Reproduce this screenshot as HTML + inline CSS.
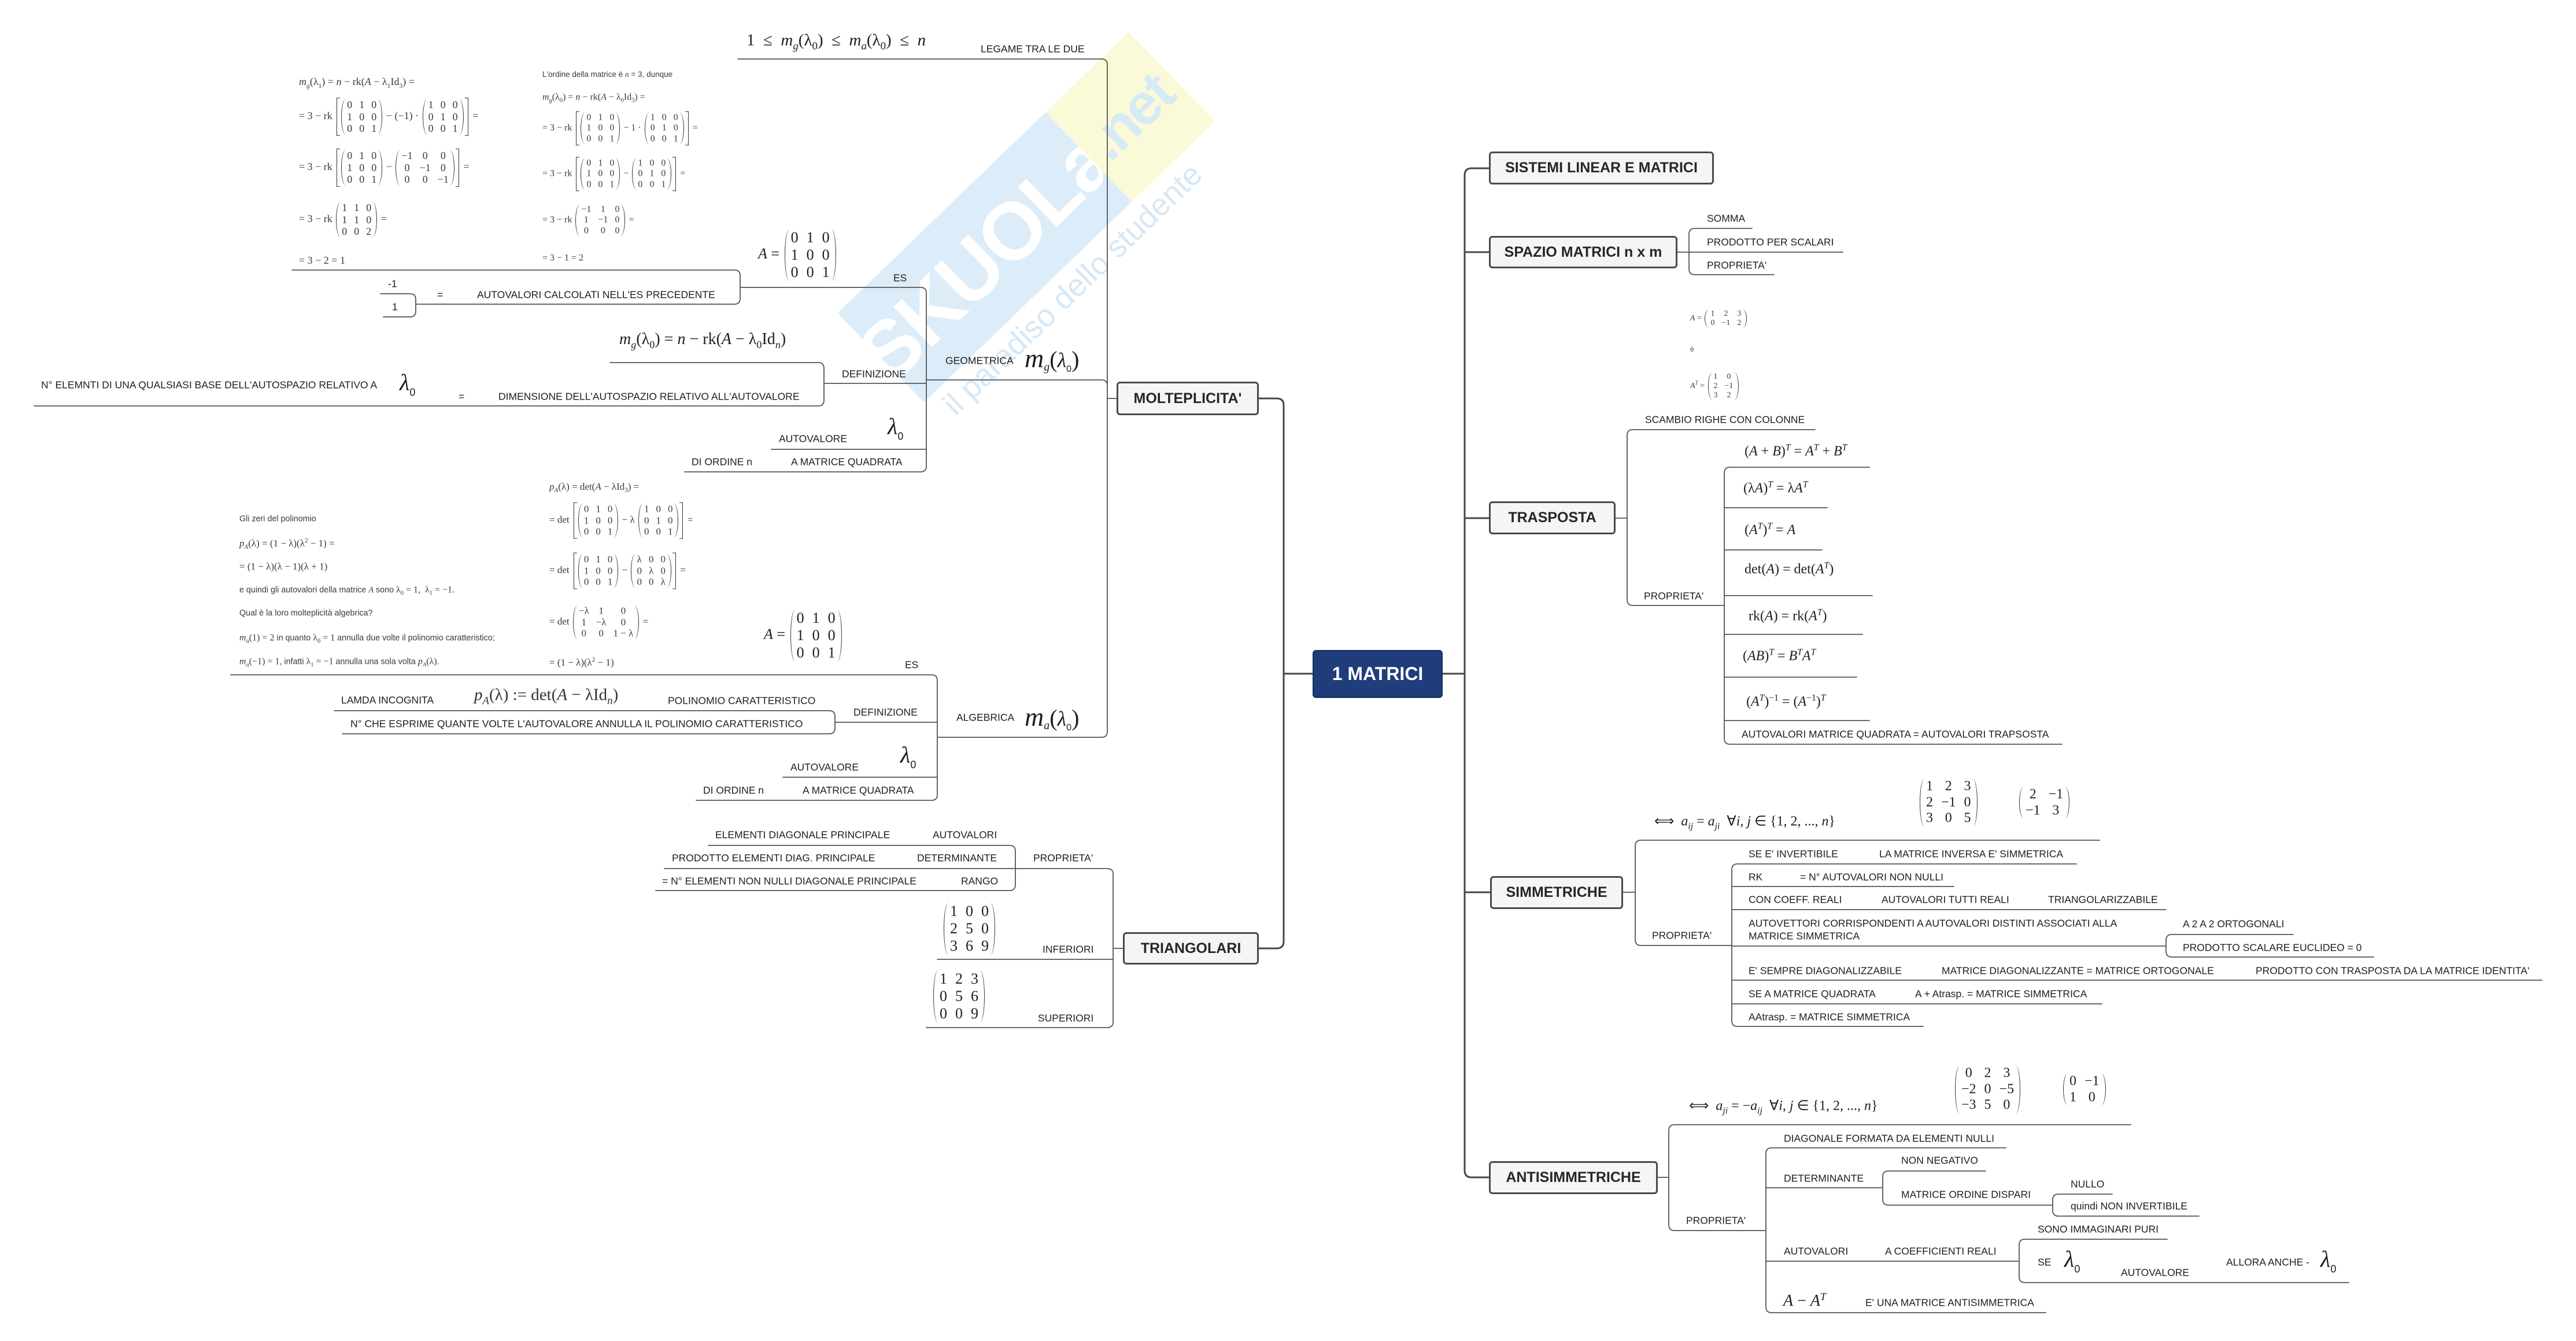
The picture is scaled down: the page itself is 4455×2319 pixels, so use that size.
<!DOCTYPE html>
<html><head><meta charset="utf-8">
<style>
html,body{margin:0;padding:0;background:#fff;}
body{width:4455px;height:2319px;position:relative;overflow:hidden;font-family:"Liberation Sans",sans-serif;color:#1e1e1e;}
.t{position:absolute;white-space:nowrap;transform:translateY(-50%);font-size:17.5px;line-height:1.2;}
.mf{font-family:"Liberation Serif",serif;}
.s{font-family:"Liberation Serif",serif;font-size:18px;color:#3a3a3a;}
.s2{font-family:"Liberation Serif",serif;font-size:16px;color:#3a3a3a;}
.s3{font-family:"Liberation Serif",serif;font-size:17px;color:#3a3a3a;}
.sz{font-family:"Liberation Sans",sans-serif;font-size:14.3px;color:#3a3a3a;}
sub,sup{font-size:65%;line-height:0;}
.box{position:absolute;box-sizing:border-box;border:3px solid #4a4a4a;border-radius:6px;background:#f5f5f5;display:flex;align-items:center;justify-content:center;font-weight:bold;font-size:25px;color:#262626;white-space:nowrap;}
.mx{display:inline-block;vertical-align:middle;position:relative;padding:0 4px;margin:0 2px;}
.mx::before,.mx::after{content:"";position:absolute;top:0;bottom:0;width:8px;border:0 solid #333;}
.mx::before{left:0;border-left-width:1.6px;border-radius:8px 0 0 8px/50% 0 0 50%;}
.mx::after{right:0;border-right-width:1.6px;border-radius:0 8px 8px 0/0 50% 50% 0;}
.mx table{border-collapse:collapse;}
.mx td{padding:0 6px;text-align:center;line-height:1.15;}
.bk{display:inline-block;vertical-align:middle;position:relative;padding:2px 6px;margin:0 3px;}
.bk::before,.bk::after{content:"";position:absolute;top:0;bottom:0;width:5px;border:1.5px solid #333;}
.bk::before{left:0;border-right:none;}
.bk::after{right:0;border-left:none;}
.lam{font-family:"Liberation Serif",serif;font-style:italic;font-size:40px;}
.l0{font-size:18px;vertical-align:-10px;}
.big td{line-height:1.15;padding:0 7px;}
</style></head>
<body>

<!-- watermark -->
<div style="position:absolute;left:1425px;top:268px;width:700px;height:215px;transform:rotate(-44deg);display:flex;">
  <div style="width:500px;height:215px;background:#dcedf9;display:flex;align-items:center;justify-content:center;color:#fff;font-weight:bold;font-size:140px;letter-spacing:-4px;">SKUOLa</div>
  <div style="width:200px;height:215px;background:#fbfad8;display:flex;align-items:center;justify-content:center;color:#d8eaf6;font-weight:bold;font-size:100px;letter-spacing:-4px;">.net</div>
</div>
<div style="position:absolute;left:1500px;top:468px;width:710px;height:64px;transform:rotate(-44deg);color:#d6e8f6;font-size:54px;line-height:64px;text-align:center;white-space:nowrap;">il paradiso dello studente</div>

<svg width="4455" height="2319" style="position:absolute;left:0;top:0" fill="none" stroke-linecap="round" stroke-linejoin="round">
<g stroke="#474747" stroke-width="3">
<path d="M2575 291 H2545 Q2533 291 2533 303 V2024 Q2533 2036 2545 2036 H2575"/>
<path d="M2533 436 H2575"/><path d="M2533 896 H2575"/><path d="M2533 1543 H2577"/>
<path d="M2495 1165 H2533"/>
<path d="M2177 689 H2208 Q2220 689 2220 701 V1628 Q2220 1640 2208 1640 H2177"/>
<path d="M2220 1165 H2270"/>
</g>
<g stroke="#555" stroke-width="1.8">
<path d="M2901 436 H3187"/>
<path d="M3030 395 H2931 Q2921 395 2921 405 V465 Q2921 475 2931 475 H3068"/>
<path d="M2794 896 H2814"/>
<path d="M3139 743 H2824 Q2814 743 2814 753 V1037 Q2814 1047 2824 1047 H2982"/>
<path d="M3233 808 H2992 Q2982 808 2982 818 V1277 Q2982 1287 2992 1287 H3566"/>
<path d="M2982 878 H3160"/><path d="M2982 951 H3151"/><path d="M2982 1030 H3238"/>
<path d="M2982 1097 H3221"/><path d="M2982 1171 H3211"/><path d="M2982 1246 H3233"/>
<path d="M2807 1543 H2828"/>
<path d="M3631 1453 H2838 Q2828 1453 2828 1463 V1625 Q2828 1635 2838 1635 H2995"/>
<path d="M3591 1494 H3005 Q2995 1494 2995 1504 V1765 Q2995 1775 3005 1775 H3326"/>
<path d="M2995 1533 H3379"/><path d="M2995 1573 H3746"/><path d="M2995 1636 H3746"/>
<path d="M2995 1695 H4396"/><path d="M2995 1736 H3635"/>
<path d="M3966 1616 H3756 Q3746 1616 3746 1626 V1645 Q3746 1655 3756 1655 H4105"/>
<path d="M2867 2036 H2886"/>
<path d="M3685 1945 H2896 Q2886 1945 2886 1955 V2118 Q2886 2128 2896 2128 H3054"/>
<path d="M3469 1985 H3064 Q3054 1985 3054 1995 V2260 Q3054 2270 3064 2270 H3538"/>
<path d="M3054 2054 H3256"/><path d="M3054 2181 H3492"/>
<path d="M3434 2025 H3266 Q3256 2025 3256 2035 V2074 Q3256 2084 3266 2084 H3550"/>
<path d="M3653 2065 H3560 Q3550 2065 3550 2075 V2093 Q3550 2103 3560 2103 H3803"/>
<path d="M3748 2143 H3502 Q3492 2143 3492 2153 V2208 Q3492 2218 3502 2218 H4062"/>
<path d="M1931 689 H1915"/>
<path d="M1276 102 H1905 Q1915 102 1915 112 V1265 Q1915 1275 1905 1275 H1621"/>
<path d="M1602 657 H1905 Q1915 657 1915 667"/>
<path d="M1280 497 H1592 Q1602 497 1602 507 V806 Q1602 816 1592 816 H1184"/>
<path d="M1425 663 H1602"/><path d="M1334 777 H1602"/>
<path d="M505 467 H1270 Q1280 467 1280 477 V516 Q1280 526 1270 526 H719"/>
<path d="M658 508 H709 Q719 508 719 518 V538 Q719 548 709 548 H663"/>
<path d="M1055 627 H1415 Q1425 627 1425 637 V692 Q1425 702 1415 702 H59"/>
<path d="M399 1167 H1611 Q1621 1167 1621 1177 V1374 Q1621 1384 1611 1384 H1204"/>
<path d="M1444 1249 H1621"/><path d="M1354 1344 H1621"/>
<path d="M578 1229 H1434 Q1444 1229 1444 1239 V1259 Q1444 1269 1434 1269 H592"/>
<path d="M1942 1640 H1925"/>
<path d="M1756 1502 H1915 Q1925 1502 1925 1512 V1767 Q1925 1777 1915 1777 H1602"/>
<path d="M1621 1659 H1925"/>
<path d="M1225 1462 H1746 Q1756 1462 1756 1472 V1530 Q1756 1540 1746 1540 H1134"/>
<path d="M1149 1502 H1756"/>
</g>
</svg>

<!-- boxes -->
<div class="box" style="left:2270px;top:1124px;width:225px;height:83px;background:#1f3c7b;border:2px solid #17305f;color:#fff;font-size:32px;">1 MATRICI</div>
<div class="box" style="left:2575px;top:262px;width:389px;height:57px;">SISTEMI LINEAR E MATRICI</div>
<div class="box" style="left:2575px;top:408px;width:326px;height:56px;">SPAZIO MATRICI n x m</div>
<div class="box" style="left:2575px;top:867px;width:219px;height:57px;">TRASPOSTA</div>
<div class="box" style="left:2577px;top:1515px;width:230px;height:57px;">SIMMETRICHE</div>
<div class="box" style="left:2575px;top:2008px;width:292px;height:57px;">ANTISIMMETRICHE</div>
<div class="box" style="left:1931px;top:660px;width:246px;height:58px;">MOLTEPLICITA'</div>
<div class="box" style="left:1942px;top:1612px;width:235px;height:56px;">TRIANGOLARI</div>

<!-- top formula -->
<div class="t mf" style="left:1291px;top:70px;font-size:29px;">1 &nbsp;≤&nbsp; <i>m<sub>g</sub></i>(λ<sub>0</sub>) &nbsp;≤&nbsp; <i>m<sub>a</sub></i>(λ<sub>0</sub>) &nbsp;≤&nbsp; <i>n</i></div>
<div class="t" style="left:1696px;top:85px;">LEGAME TRA LE DUE</div>

<!-- left mg(λ1) block -->
<div class="t s" style="left:517px;top:142px;"><i>m<sub>g</sub></i>(λ<sub>1</sub>) = <i>n</i> − rk(<i>A</i> − λ<sub>1</sub>Id<sub>3</sub>) =</div>
<div class="t s" style="left:517px;top:202px;">= 3 − rk <span class="bk"><span class="mx"><table><tr><td>0</td><td>1</td><td>0</td></tr><tr><td>1</td><td>0</td><td>0</td></tr><tr><td>0</td><td>0</td><td>1</td></tr></table></span> − (−1) · <span class="mx"><table><tr><td>1</td><td>0</td><td>0</td></tr><tr><td>0</td><td>1</td><td>0</td></tr><tr><td>0</td><td>0</td><td>1</td></tr></table></span></span> =</div>
<div class="t s" style="left:517px;top:290px;">= 3 − rk <span class="bk"><span class="mx"><table><tr><td>0</td><td>1</td><td>0</td></tr><tr><td>1</td><td>0</td><td>0</td></tr><tr><td>0</td><td>0</td><td>1</td></tr></table></span> − <span class="mx"><table><tr><td>−1</td><td>0</td><td>0</td></tr><tr><td>0</td><td>−1</td><td>0</td></tr><tr><td>0</td><td>0</td><td>−1</td></tr></table></span></span> =</div>
<div class="t s" style="left:517px;top:380px;">= 3 − rk <span class="mx"><table><tr><td>1</td><td>1</td><td>0</td></tr><tr><td>1</td><td>1</td><td>0</td></tr><tr><td>0</td><td>0</td><td>2</td></tr></table></span> =</div>
<div class="t s" style="left:517px;top:451px;">= 3 − 2 = 1</div>

<!-- right mg(λ0) block -->
<div class="t sz" style="left:938px;top:129px;font-size:13.5px;">L'ordine della matrice è <i style="font-family:'Liberation Serif',serif">n</i> = 3, dunque</div>
<div class="t s2" style="left:938px;top:168px;"><i>m<sub>g</sub></i>(λ<sub>0</sub>) = <i>n</i> − rk(<i>A</i> − λ<sub>0</sub>Id<sub>3</sub>) =</div>
<div class="t s2" style="left:938px;top:222px;">= 3 − rk <span class="bk"><span class="mx"><table><tr><td>0</td><td>1</td><td>0</td></tr><tr><td>1</td><td>0</td><td>0</td></tr><tr><td>0</td><td>0</td><td>1</td></tr></table></span> − 1 · <span class="mx"><table><tr><td>1</td><td>0</td><td>0</td></tr><tr><td>0</td><td>1</td><td>0</td></tr><tr><td>0</td><td>0</td><td>1</td></tr></table></span></span> =</div>
<div class="t s2" style="left:938px;top:301px;">= 3 − rk <span class="bk"><span class="mx"><table><tr><td>0</td><td>1</td><td>0</td></tr><tr><td>1</td><td>0</td><td>0</td></tr><tr><td>0</td><td>0</td><td>1</td></tr></table></span> − <span class="mx"><table><tr><td>1</td><td>0</td><td>0</td></tr><tr><td>0</td><td>1</td><td>0</td></tr><tr><td>0</td><td>0</td><td>1</td></tr></table></span></span> =</div>
<div class="t s2" style="left:938px;top:381px;">= 3 − rk <span class="mx"><table><tr><td>−1</td><td>1</td><td>0</td></tr><tr><td>1</td><td>−1</td><td>0</td></tr><tr><td>0</td><td>0</td><td>0</td></tr></table></span> =</div>
<div class="t s2" style="left:938px;top:446px;">= 3 − 1 = 2</div>

<!-- ES geometrica -->
<div class="t mf" style="left:1311px;top:441px;font-size:26px;"><i>A</i> = <span class="mx big"><table><tr><td>0</td><td>1</td><td>0</td></tr><tr><td>1</td><td>0</td><td>0</td></tr><tr><td>0</td><td>0</td><td>1</td></tr></table></span></div>
<div class="t" style="left:1545px;top:481px;">ES</div>
<div class="t" style="left:671px;top:491px;">-1</div>
<div class="t" style="left:678px;top:531px;">1</div>
<div class="t" style="left:756px;top:510px;">=</div>
<div class="t" style="left:825px;top:510px;">AUTOVALORI CALCOLATI NELL'ES PRECEDENTE</div>
<div class="t mf" style="left:1071px;top:587px;font-size:28px;"><i>m<sub>g</sub></i>(λ<sub>0</sub>) = <i>n</i> − rk(<i>A</i> − λ<sub>0</sub>Id<sub><i>n</i></sub>)</div>
<div class="t" style="left:1635px;top:624px;">GEOMETRICA</div>
<div class="t mf" style="left:1772px;top:620px;"><i style="font-size:46px">m</i><sub style="font-size:20px;vertical-align:-6px"><i>g</i></sub><span style="font-size:40px">(</span><i style="font-size:36px">λ</i><span style="font-family:'Liberation Sans';font-size:16px;vertical-align:-8px">0</span><span style="font-size:40px">)</span></div>
<div class="t" style="left:1456px;top:647px;">DEFINIZIONE</div>
<div class="t" style="left:71px;top:666px;">N° ELEMNTI DI UNA QUALSIASI BASE DELL'AUTOSPAZIO RELATIVO A</div>
<div class="t" style="left:691px;top:664px;"><span class="lam">λ</span><span class="l0">0</span></div>
<div class="t" style="left:793px;top:686px;">=</div>
<div class="t" style="left:862px;top:686px;">DIMENSIONE DELL'AUTOSPAZIO RELATIVO ALL'AUTOVALORE</div>
<div class="t" style="left:1347px;top:759px;">AUTOVALORE</div>
<div class="t" style="left:1535px;top:740px;"><span class="lam">λ</span><span class="l0">0</span></div>
<div class="t" style="left:1196px;top:799px;">DI ORDINE n</div>
<div class="t" style="left:1368px;top:799px;">A MATRICE QUADRATA</div>

<!-- p_A block -->
<div class="t s3" style="left:950px;top:842px;"><i>p<sub>A</sub></i>(λ) = det(<i>A</i> − λId<sub>3</sub>) =</div>
<div class="t s3" style="left:950px;top:900px;">= det <span class="bk"><span class="mx"><table><tr><td>0</td><td>1</td><td>0</td></tr><tr><td>1</td><td>0</td><td>0</td></tr><tr><td>0</td><td>0</td><td>1</td></tr></table></span> − λ <span class="mx"><table><tr><td>1</td><td>0</td><td>0</td></tr><tr><td>0</td><td>1</td><td>0</td></tr><tr><td>0</td><td>0</td><td>1</td></tr></table></span></span> =</div>
<div class="t s3" style="left:950px;top:987px;">= det <span class="bk"><span class="mx"><table><tr><td>0</td><td>1</td><td>0</td></tr><tr><td>1</td><td>0</td><td>0</td></tr><tr><td>0</td><td>0</td><td>1</td></tr></table></span> − <span class="mx"><table><tr><td>λ</td><td>0</td><td>0</td></tr><tr><td>0</td><td>λ</td><td>0</td></tr><tr><td>0</td><td>0</td><td>λ</td></tr></table></span></span> =</div>
<div class="t s3" style="left:950px;top:1076px;">= det <span class="mx"><table><tr><td>−λ</td><td>1</td><td>0</td></tr><tr><td>1</td><td>−λ</td><td>0</td></tr><tr><td>0</td><td>0</td><td>1 − λ</td></tr></table></span> =</div>
<div class="t s3" style="left:950px;top:1146px;">= (1 − λ)(λ<sup>2</sup> − 1)</div>

<!-- Gli zeri block -->
<div class="t sz" style="left:414px;top:898px;">Gli zeri del polinomio</div>
<div class="t s3" style="left:414px;top:940px;"><i>p<sub>A</sub></i>(λ) = (1 − λ)(λ<sup>2</sup> − 1) =</div>
<div class="t s3" style="left:414px;top:980px;">= (1 − λ)(λ − 1)(λ + 1)</div>
<div class="t sz" style="left:414px;top:1020px;">e quindi gli autovalori della matrice <i style="font-family:'Liberation Serif',serif">A</i> sono <span style="font-family:'Liberation Serif',serif;font-size:16px">λ<sub>0</sub> = 1, &nbsp;λ<sub>1</sub> = −1.</span></div>
<div class="t sz" style="left:414px;top:1061px;">Qual è la loro molteplicità algebrica?</div>
<div class="t sz" style="left:414px;top:1103px;"><span style="font-family:'Liberation Serif',serif;font-size:16px"><i>m<sub>a</sub></i>(1) = 2</span> in quanto <span style="font-family:'Liberation Serif',serif;font-size:16px">λ<sub>0</sub> = 1</span> annulla due volte il polinomio caratteristico;</div>
<div class="t sz" style="left:414px;top:1144px;"><span style="font-family:'Liberation Serif',serif;font-size:16px"><i>m<sub>a</sub></i>(−1) = 1</span>, infatti <span style="font-family:'Liberation Serif',serif;font-size:16px">λ<sub>1</sub> = −1</span> annulla una sola volta <span style="font-family:'Liberation Serif',serif;font-size:16px"><i>p<sub>A</sub></i>(λ)</span>.</div>

<!-- algebrica -->
<div class="t mf" style="left:1321px;top:1099px;font-size:26px;"><i>A</i> = <span class="mx big"><table><tr><td>0</td><td>1</td><td>0</td></tr><tr><td>1</td><td>0</td><td>0</td></tr><tr><td>0</td><td>0</td><td>1</td></tr></table></span></div>
<div class="t" style="left:1565px;top:1150px;">ES</div>
<div class="t" style="left:590px;top:1211px;">LAMDA INCOGNITA</div>
<div class="t mf" style="left:820px;top:1202px;font-size:29px;color:#333;"><i>p<sub>A</sub></i>(λ) := det(<i>A</i> − λId<sub><i>n</i></sub>)</div>
<div class="t" style="left:1155px;top:1212px;">POLINOMIO CARATTERISTICO</div>
<div class="t" style="left:1476px;top:1232px;">DEFINIZIONE</div>
<div class="t" style="left:606px;top:1252px;">N° CHE ESPRIME QUANTE VOLTE L'AUTOVALORE ANNULLA IL POLINOMIO CARATTERISTICO</div>
<div class="t" style="left:1654px;top:1241px;">ALGEBRICA</div>
<div class="t mf" style="left:1772px;top:1240px;"><i style="font-size:46px">m</i><sub style="font-size:20px;vertical-align:-6px"><i>a</i></sub><span style="font-size:40px">(</span><i style="font-size:36px">λ</i><span style="font-family:'Liberation Sans';font-size:16px;vertical-align:-8px">0</span><span style="font-size:40px">)</span></div>
<div class="t" style="left:1367px;top:1327px;">AUTOVALORE</div>
<div class="t" style="left:1557px;top:1308px;"><span class="lam">λ</span><span class="l0">0</span></div>
<div class="t" style="left:1216px;top:1367px;">DI ORDINE n</div>
<div class="t" style="left:1388px;top:1367px;">A MATRICE QUADRATA</div>

<!-- triangolari -->
<div class="t" style="left:1237px;top:1444px;">ELEMENTI DIAGONALE PRINCIPALE</div>
<div class="t" style="left:1613px;top:1444px;">AUTOVALORI</div>
<div class="t" style="left:1162px;top:1484px;">PRODOTTO ELEMENTI DIAG. PRINCIPALE</div>
<div class="t" style="left:1586px;top:1484px;">DETERMINANTE</div>
<div class="t" style="left:1787px;top:1484px;">PROPRIETA'</div>
<div class="t" style="left:1145px;top:1524px;">= N° ELEMENTI NON NULLI DIAGONALE PRINCIPALE</div>
<div class="t" style="left:1662px;top:1524px;">RANGO</div>
<div class="t mf" style="left:1630px;top:1606px;font-size:26px;"><span class="mx big"><table><tr><td>1</td><td>0</td><td>0</td></tr><tr><td>2</td><td>5</td><td>0</td></tr><tr><td>3</td><td>6</td><td>9</td></tr></table></span></div>
<div class="t" style="left:1803px;top:1642px;">INFERIORI</div>
<div class="t mf" style="left:1612px;top:1723px;font-size:26px;"><span class="mx big"><table><tr><td>1</td><td>2</td><td>3</td></tr><tr><td>0</td><td>5</td><td>6</td></tr><tr><td>0</td><td>0</td><td>9</td></tr></table></span></div>
<div class="t" style="left:1795px;top:1761px;">SUPERIORI</div>

<!-- spazio matrici -->
<div class="t" style="left:2952px;top:378px;">SOMMA</div>
<div class="t" style="left:2952px;top:419px;">PRODOTTO PER SCALARI</div>
<div class="t" style="left:2952px;top:459px;">PROPRIETA'</div>

<!-- trasposta -->
<div class="t s" style="left:2923px;top:551px;font-size:14px;"><i>A</i> = <span class="mx"><table><tr><td>1</td><td>2</td><td>3</td></tr><tr><td>0</td><td>−1</td><td>2</td></tr></table></span></div>
<div class="t sz" style="left:2923px;top:604px;font-size:12px;">è</div>
<div class="t s" style="left:2923px;top:668px;font-size:14px;"><i>A<sup>T</sup></i> = <span class="mx"><table><tr><td>1</td><td>0</td></tr><tr><td>2</td><td>−1</td></tr><tr><td>3</td><td>2</td></tr></table></span></div>
<div class="t" style="left:2845px;top:726px;">SCAMBIO RIGHE CON COLONNE</div>
<div class="t mf" style="left:3017px;top:781px;font-size:24px;">(<i>A</i> + <i>B</i>)<sup><i>T</i></sup> = <i>A<sup>T</sup></i> + <i>B<sup>T</sup></i></div>
<div class="t mf" style="left:3015px;top:845px;font-size:24px;">(λ<i>A</i>)<sup><i>T</i></sup> = λ<i>A<sup>T</sup></i></div>
<div class="t mf" style="left:3017px;top:917px;font-size:24px;">(<i>A<sup>T</sup></i>)<sup><i>T</i></sup> = <i>A</i></div>
<div class="t mf" style="left:3017px;top:985px;font-size:24px;">det(<i>A</i>) = det(<i>A<sup>T</sup></i>)</div>
<div class="t" style="left:2843px;top:1031px;">PROPRIETA'</div>
<div class="t mf" style="left:3024px;top:1066px;font-size:24px;">rk(<i>A</i>) = rk(<i>A<sup>T</sup></i>)</div>
<div class="t mf" style="left:3014px;top:1135px;font-size:24px;">(<i>AB</i>)<sup><i>T</i></sup> = <i>B<sup>T</sup>A<sup>T</sup></i></div>
<div class="t mf" style="left:3020px;top:1214px;font-size:24px;">(<i>A<sup>T</sup></i>)<sup>−1</sup> = (<i>A</i><sup>−1</sup>)<sup><i>T</i></sup></div>
<div class="t" style="left:3012px;top:1270px;">AUTOVALORI MATRICE QUADRATA = AUTOVALORI TRAPSOSTA</div>

<!-- simmetriche -->
<div class="t mf" style="left:2861px;top:1421px;font-size:24px;">⟺ &nbsp;<i>a<sub>ij</sub></i> = <i>a<sub>ji</sub></i> &nbsp;∀<i>i</i>, <i>j</i> ∈ {1, 2, ..., <i>n</i>}</div>
<div class="t mf" style="left:3318px;top:1388px;font-size:24px;"><span class="mx big"><table><tr><td>1</td><td>2</td><td>3</td></tr><tr><td>2</td><td>−1</td><td>0</td></tr><tr><td>3</td><td>0</td><td>5</td></tr></table></span></div>
<div class="t mf" style="left:3490px;top:1388px;font-size:24px;"><span class="mx big"><table><tr><td>2</td><td>−1</td></tr><tr><td>−1</td><td>3</td></tr></table></span></div>
<div class="t" style="left:3024px;top:1477px;">SE E' INVERTIBILE</div>
<div class="t" style="left:3250px;top:1477px;">LA MATRICE INVERSA E' SIMMETRICA</div>
<div class="t" style="left:3024px;top:1517px;">RK</div>
<div class="t" style="left:3113px;top:1517px;">= N° AUTOVALORI NON NULLI</div>
<div class="t" style="left:3024px;top:1556px;">CON COEFF. REALI</div>
<div class="t" style="left:3254px;top:1556px;">AUTOVALORI TUTTI REALI</div>
<div class="t" style="left:3542px;top:1556px;">TRIANGOLARIZZABILE</div>
<div class="t" style="left:3024px;top:1597px;">AUTOVETTORI CORRISPONDENTI A AUTOVALORI DISTINTI ASSOCIATI ALLA</div>
<div class="t" style="left:3024px;top:1619px;">MATRICE SIMMETRICA</div>
<div class="t" style="left:2857px;top:1618px;">PROPRIETA'</div>
<div class="t" style="left:3775px;top:1598px;">A 2 A 2 ORTOGONALI</div>
<div class="t" style="left:3775px;top:1639px;">PRODOTTO SCALARE EUCLIDEO = 0</div>
<div class="t" style="left:3024px;top:1679px;">E' SEMPRE DIAGONALIZZABILE</div>
<div class="t" style="left:3358px;top:1679px;">MATRICE DIAGONALIZZANTE = MATRICE ORTOGONALE</div>
<div class="t" style="left:3901px;top:1679px;">PRODOTTO CON TRASPOSTA DA LA MATRICE IDENTITA'</div>
<div class="t" style="left:3024px;top:1719px;">SE A MATRICE QUADRATA</div>
<div class="t" style="left:3312px;top:1719px;">A + Atrasp. = MATRICE SIMMETRICA</div>
<div class="t" style="left:3024px;top:1759px;">AAtrasp. = MATRICE SIMMETRICA</div>

<!-- antisimmetriche -->
<div class="t mf" style="left:2921px;top:1913px;font-size:24px;">⟺ &nbsp;<i>a<sub>ji</sub></i> = −<i>a<sub>ij</sub></i> &nbsp;∀<i>i</i>, <i>j</i> ∈ {1, 2, ..., <i>n</i>}</div>
<div class="t mf" style="left:3379px;top:1884px;font-size:24px;"><span class="mx big"><table><tr><td>0</td><td>2</td><td>3</td></tr><tr><td>−2</td><td>0</td><td>−5</td></tr><tr><td>−3</td><td>5</td><td>0</td></tr></table></span></div>
<div class="t mf" style="left:3566px;top:1884px;font-size:24px;"><span class="mx big"><table><tr><td>0</td><td>−1</td></tr><tr><td>1</td><td>0</td></tr></table></span></div>
<div class="t" style="left:3085px;top:1969px;">DIAGONALE FORMATA DA ELEMENTI NULLI</div>
<div class="t" style="left:3288px;top:2007px;">NON NEGATIVO</div>
<div class="t" style="left:3085px;top:2038px;">DETERMINANTE</div>
<div class="t" style="left:3581px;top:2048px;">NULLO</div>
<div class="t" style="left:3288px;top:2066px;">MATRICE ORDINE DISPARI</div>
<div class="t" style="left:3581px;top:2086px;">quindi NON INVERTIBILE</div>
<div class="t" style="left:2916px;top:2111px;">PROPRIETA'</div>
<div class="t" style="left:3524px;top:2126px;">SONO IMMAGINARI PURI</div>
<div class="t" style="left:3085px;top:2164px;">AUTOVALORI</div>
<div class="t" style="left:3260px;top:2164px;">A COEFFICIENTI REALI</div>
<div class="t" style="left:3524px;top:2183px;">SE</div>
<div class="t" style="left:3570px;top:2180px;"><span class="lam">λ</span><span class="l0">0</span></div>
<div class="t" style="left:3668px;top:2201px;">AUTOVALORE</div>
<div class="t" style="left:3850px;top:2183px;">ALLORA ANCHE -</div>
<div class="t" style="left:4013px;top:2180px;"><span class="lam">λ</span><span class="l0">0</span></div>
<div class="t mf" style="left:3084px;top:2250px;font-size:28px;"><i>A</i> − <i>A<sup>T</sup></i></div>
<div class="t" style="left:3226px;top:2253px;">E' UNA MATRICE ANTISIMMETRICA</div>

</body></html>
